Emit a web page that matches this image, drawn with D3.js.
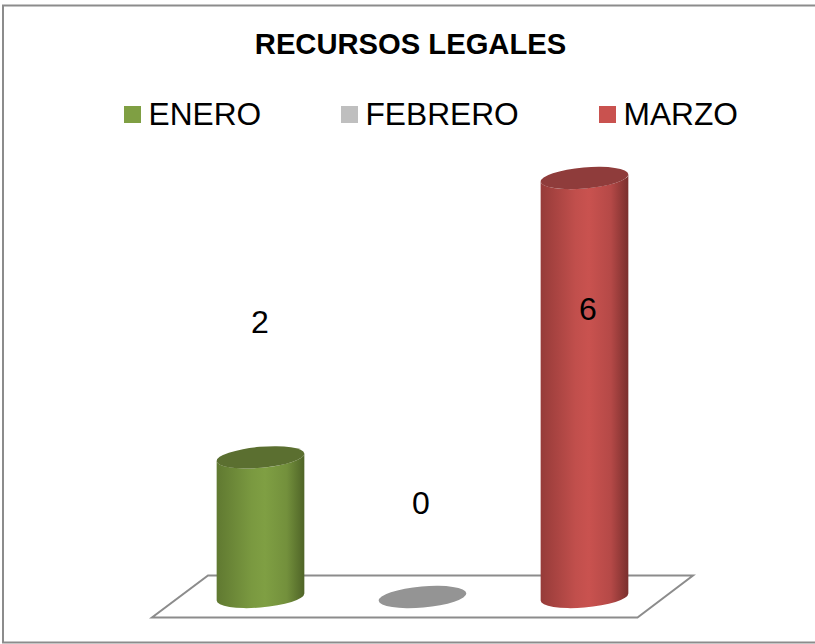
<!DOCTYPE html>
<html lang="en">
<head>
<meta charset="UTF-8" />
<title>Recursos legales</title>
<script src="https://d3js.org/d3.v7.min.js"></script>
<style>
  html, body { margin: 0; padding: 0; background: #fff; }
  svg { display: block; font-family: "Liberation Sans", Arial, sans-serif; }
</style>
</head>
<body>
<div id="chart"></div>
<script>
const title = 'RECURSOS LEGALES';
const months = ['ENERO', 'FEBRERO', 'MARZO'];
const values = [2, 0, 6];
const colors = ['#7f9f43', '#bfbfbf', '#c9524f'];
const sideColors = ['#4f6427', '#777', '#7a2f2d'];
const topColors = ['#5b6f30', '#949494', '#8f3c3b'];

const width = 815, height = 644;
const rx = 44, ry = 10.5, tilt = -5; // cylinder ellipse, degrees of tilt

const svg = d3.select('#chart').append('svg')
  .attr('width', width)
  .attr('height', height);

const defs = svg.append('defs');

// Frame: the right side runs off the picture
svg.append('path')
  .attr('d', 'M815,5.5 L3,5.5 L3,642.5 L815,642.5')
  .attr('fill', 'none')
  .attr('stroke', '#8c8c8c')
  .attr('stroke-width', 2);

svg.append('text')
  .attr('x', 410.5).attr('y', 54)
  .attr('text-anchor', 'middle')
  .attr('font-size', 29.2)
  .attr('font-weight', 'bold')
  .attr('fill', '#000')
  .text(title);

// Legend
const legendX = d3.scaleOrdinal().domain(months).range([124, 341, 599]);
const legend = svg.selectAll('.legend')
  .data(months)
  .enter().append('g')
  .attr('class', 'legend')
  .attr('transform', d => `translate(${legendX(d)},106)`);

legend.append('rect')
  .attr('width', 17).attr('height', 17)
  .attr('fill', (d, i) => colors[i]);

legend.append('text')
  .attr('x', 24.5).attr('y', 19)
  .attr('font-size', 31.7)
  .attr('fill', '#000')
  .text(d => d);

// Scales
const x = d3.scalePoint().domain(months).range([260.5, 584.5]);
const y = d3.scaleLinear().domain([0, 6]).range([597, 178]);

// Floor
svg.append('path')
  .attr('d', 'M208,575.5 L693,575.5 L637.5,617.5 L152,617.5 Z')
  .attr('fill', '#fff')
  .attr('stroke', '#8c8c8c')
  .attr('stroke-width', 2);

// Where the side walls meet a tilted ellipse
const a = tilt * Math.PI / 180;
const halfW = Math.sqrt(rx * rx * Math.cos(a) ** 2 + ry * ry * Math.sin(a) ** 2);
const edgeY = Math.sin(a) * Math.cos(a) * (rx * rx - ry * ry) / halfW;

months.forEach((m, i) => {
  const g = defs.append('linearGradient')
    .attr('id', `side${i}`)
    .attr('x1', 0).attr('x2', 1).attr('y1', 0).attr('y2', 0);
  g.append('stop').attr('offset', 0).attr('stop-color', d3.interpolateRgb(sideColors[i], colors[i])(0.35));
  g.append('stop').attr('offset', 0.4).attr('stop-color', d3.interpolateRgb(sideColors[i], colors[i])(0.9));
  g.append('stop').attr('offset', 0.55).attr('stop-color', colors[i]);
  g.append('stop').attr('offset', 0.8).attr('stop-color', d3.interpolateRgb(sideColors[i], colors[i])(0.75));
  g.append('stop').attr('offset', 1).attr('stop-color', sideColors[i]);
});

const bars = svg.selectAll('.bar')
  .data(values)
  .enter().append('g')
  .attr('class', 'bar');

// Body: a zero value has no height, only the flat disc
bars.filter(d => d > 0).append('path')
  .attr('fill', d => `url(#side${values.indexOf(d)})`)
  .attr('d', d => {
    const cx = x(months[values.indexOf(d)]);
    const l = cx - halfW, r = cx + halfW;
    return `M${l},${y(d) - edgeY} L${l},${y(0) - edgeY}` +
      ` A${rx},${ry} ${tilt} 0 0 ${r},${y(0) + edgeY}` +
      ` L${r},${y(d) + edgeY}` +
      ` A${rx},${ry} ${tilt} 0 1 ${l},${y(d) - edgeY} Z`;
  });

// Top ellipse
bars.append('ellipse')
  .attr('rx', rx).attr('ry', ry)
  .attr('transform', (d, i) => `translate(${x(months[i])},${y(d)}) rotate(${tilt})`)
  .attr('fill', (d, i) => topColors[i]);

// Value labels, placed by hand in the original
const labelPos = [[260, 333], [421, 514], [588, 320]];
svg.selectAll('.value')
  .data(values)
  .enter().append('text')
  .attr('class', 'value')
  .attr('x', (d, i) => labelPos[i][0])
  .attr('y', (d, i) => labelPos[i][1])
  .attr('text-anchor', 'middle')
  .attr('font-size', 32)
  .attr('fill', '#000')
  .text(d => d);
</script>
</body>
</html>
